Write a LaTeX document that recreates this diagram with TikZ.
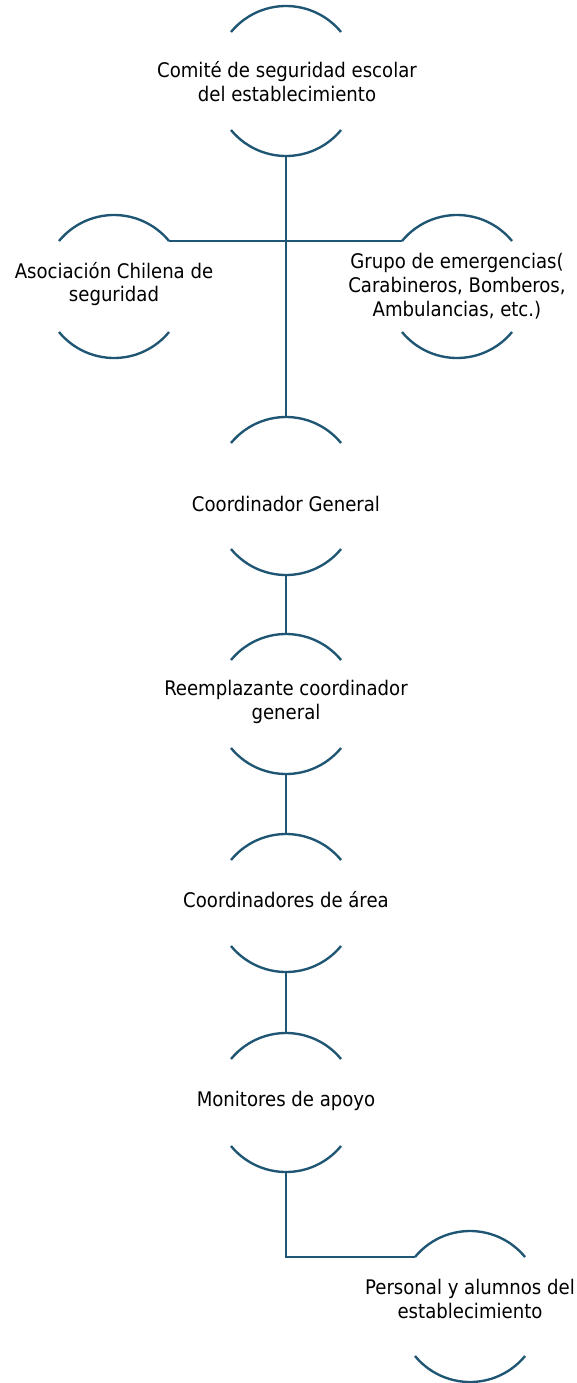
\documentclass[tikz,border=0pt]{standalone}
\usepackage{fontspec}
\setmainfont{DejaVu Sans Condensed}
\definecolor{azul}{RGB}{31,86,115}

\tikzset{
  linea/.style={draw=azul, line width=1.35pt},
  texto/.style={align=center, text=black, inner sep=0pt, font=\fontsize{11.45}{13.6}\selectfont},
}

% two arcs around a label, top at #3 and bottom at #4
\newcommand{\nodo}[4]{%
  \coordinate (#1-t) at (#2,#3);
  \coordinate (#1-b) at (#2,#4);
  \draw[linea] (#1-t) ++(-55,-26) coordinate (#1-tl) arc[start angle=140.6, end angle=39.4, radius=71.2] coordinate (#1-tr);
  \draw[linea] (#1-b) ++(-55,26) arc[start angle=219.4, end angle=320.6, radius=71.2];
}

\begin{document}
\begin{tikzpicture}[x=0.02cm, y=0.02cm]
\useasboundingbox (0,0) rectangle (576,-1383);

\nodo{com}{286}{-6}{-156}
\nodo{aso}{114}{-215}{-358}
\nodo{gru}{457}{-215}{-358}
\nodo{cg}{286}{-417}{-575}
\nodo{ree}{286}{-634}{-774}
\nodo{are}{286}{-834}{-972}
\nodo{mon}{286}{-1033}{-1172}
\nodo{per}{470}{-1231}{-1382}

\node[texto] (tcom) at (287,-82) {Comité de seguridad escolar\\del establecimiento};
\node[texto] (taso) at (114,-284) {Asociación Chilena de\\seguridad};
\node[texto] (tgru) at (457,-286) {Grupo de emergencias(\\Carabineros, Bomberos,\\Ambulancias, etc.)};
\node[texto] (tcg) at (286,-504) {Coordinador General};
\node[texto] (tree) at (286,-702) {Reemplazante coordinador\\general};
\node[texto] (tare) at (286,-900) {Coordinadores de área};
\node[texto] (tmon) at (286,-1101) {Monitores de apoyo};
\node[texto] (tper) at (470,-1299) {Personal y alumnos del\\establecimiento};

\draw[linea] (com-b) -- (cg-t);
\draw[linea] (aso-tr) -- (gru-tl);
\draw[linea] (cg-b) -- (ree-t);
\draw[linea] (ree-b) -- (are-t);
\draw[linea] (are-b) -- (mon-t);
\draw[linea] (mon-b) |- (per-tl);

\end{tikzpicture}
\end{document}
